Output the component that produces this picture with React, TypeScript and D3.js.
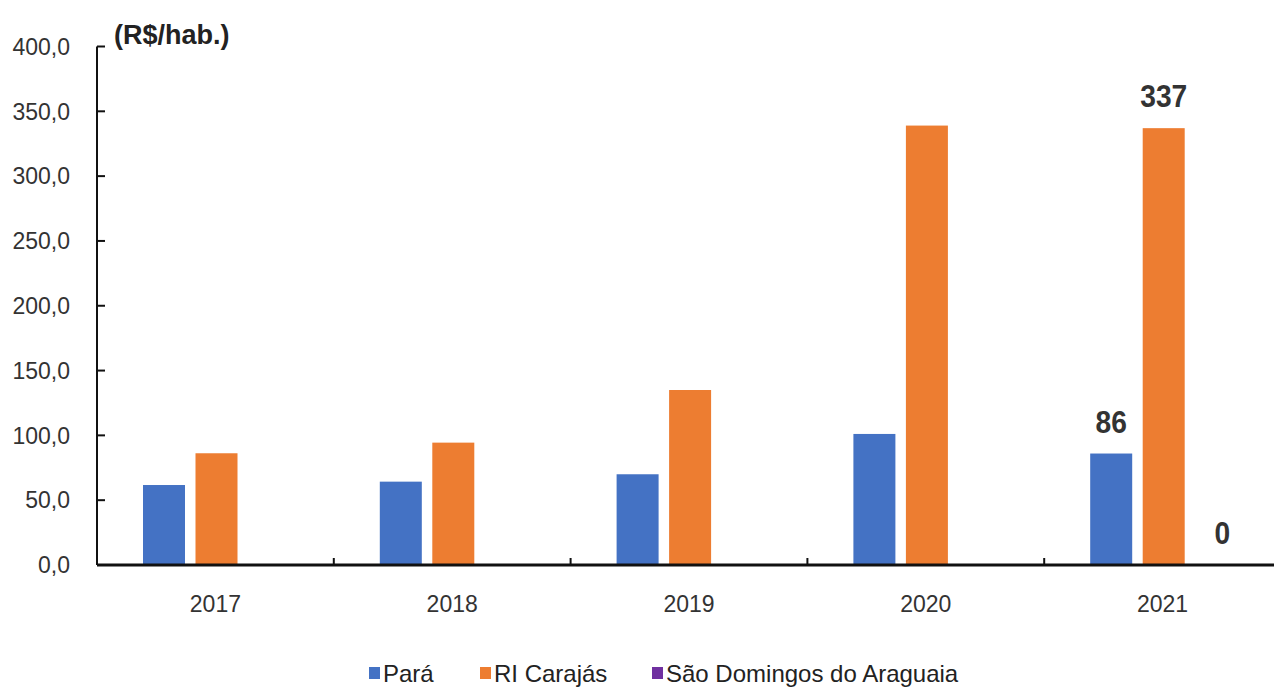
import React from "react";
import * as d3 from "d3";

const years = ["2017", "2018", "2019", "2020", "2021"];
const seriesNames = ["Pará", "RI Carajás", "São Domingos do Araguaia"];
const para = [61.7, 64.3, 70.0, 101.1, 86];
const carajas = [86.2, 94.4, 135.0, 339.0, 337];
const saoDomingos = [null, null, null, null, 0];
const labelYearIndex = 4;
const yTicks = [0, 50, 100, 150, 200, 250, 300, 350, 400];
const colors = ["#4472C4", "#ED7D31", "#7030A0"];

export default function App() {
  const W = 1274, H = 688;
  const left = 97, right = 1281, top = 46.5, bottom = 565;
  const y = d3.scaleLinear().domain([0, 400]).range([bottom, top]);
  const x0 = d3.scaleBand<string>().domain(years).range([left, right]);
  const x1 = d3.scaleBand<string>().domain(seriesNames).range([46, 193]).paddingInner(0.2);
  const data = [para, carajas, saoDomingos];
  const fmt = (v: number) => d3.format(".1f")(v).replace(".", ",");
  const font = "Liberation Sans, Arial, sans-serif";

  const legendX = [369, 480, 652];

  return (
    <svg width={W} height={H} style={{ position: "absolute", left: 0, top: 0, background: "#fff" }} fontFamily={font}>
      {data.map((s, si) =>
        years.map((yr, i) => {
          const v = s[i];
          if (v === null || v === undefined || v <= 0) return null;
          return (
            <rect
              key={`${si}-${i}`}
              x={(x0(yr) as number) + (x1(seriesNames[si]) as number)}
              y={y(v)}
              width={x1.bandwidth()}
              height={bottom - y(v)}
              fill={colors[si]}
            />
          );
        })
      )}
      {data.map((s, si) => {
        const v = s[labelYearIndex];
        if (v === null || v === undefined) return null;
        const cx = (x0(years[labelYearIndex]) as number) + (x1(seriesNames[si]) as number) + x1.bandwidth() / 2;
        return (
          <g key={`l${si}`} transform={`translate(${cx + (si === 2 ? 6 : 0)},${y(v) - 21}) scale(0.88,1)`}>
            <text x={0} y={0} textAnchor="middle" fontSize={32} fontWeight="bold" fill="#333">
              {d3.format("d")(v)}
            </text>
          </g>
        );
      })}
      <line x1={left} x2={left} y1={top} y2={bottom} stroke="#111" strokeWidth={2} />
      {yTicks.map((t) => (
        <g key={t}>
          <line x1={left} x2={left + 8} y1={y(t)} y2={y(t)} stroke="#111" strokeWidth={2} />
          <text x={70} y={y(t)} dy="0.36em" textAnchor="end" fontSize={23} fill="#333">
            {fmt(t)}
          </text>
        </g>
      ))}
      <line x1={left} x2={W} y1={bottom} y2={bottom} stroke="#111" strokeWidth={3} />
      {years.slice(1).map((yr) => (
        <line key={`s${yr}`} x1={x0(yr) as number} x2={x0(yr) as number} y1={bottom} y2={bottom - 7} stroke="#111" strokeWidth={2} />
      ))}
      {years.map((yr) => (
        <text key={`x${yr}`} x={(x0(yr) as number) + x0.bandwidth() / 2} y={612} textAnchor="middle" fontSize={23} fill="#333">
          {yr}
        </text>
      ))}
      <text x={114} y={44} fontSize={27} fontWeight="bold" fill="#222">(R$/hab.)</text>
      {seriesNames.map((n, i) => (
        <g key={`lg${i}`}>
          <rect x={legendX[i]} y={667} width={11} height={12} fill={colors[i]} />
          <text x={legendX[i] + 14} y={682} fontSize={24} fill="#222">{n}</text>
        </g>
      ))}
    </svg>
  );
}
